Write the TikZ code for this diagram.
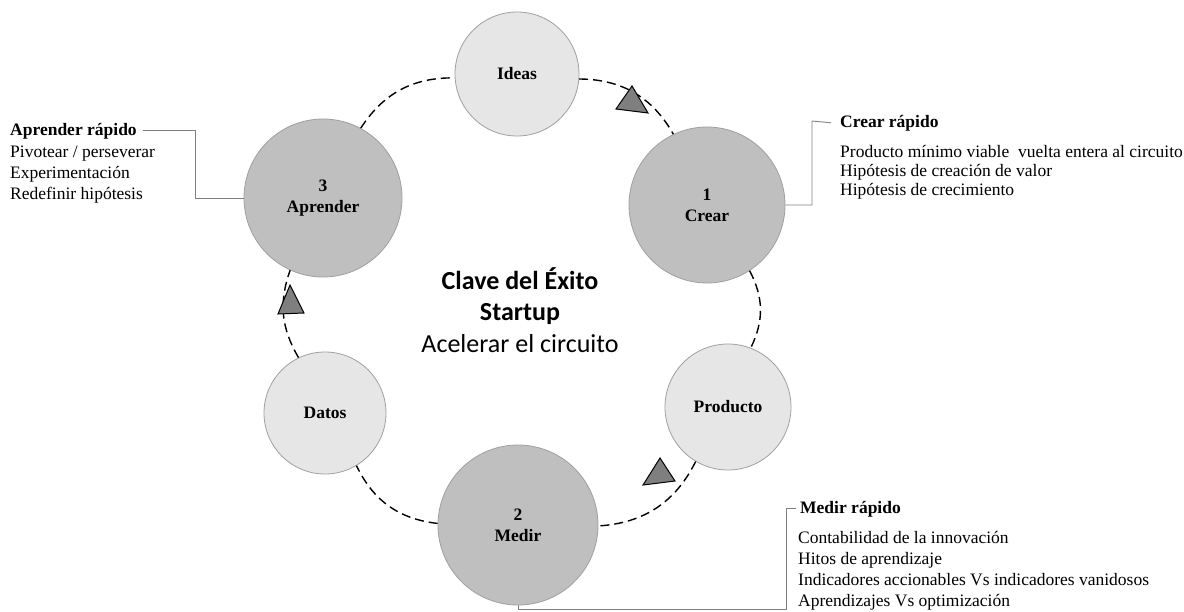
\documentclass[tikz,border=0pt]{standalone}
\usepackage{fontspec}
\setmainfont{Liberation Serif}
\newfontfamily\calibri{Carlito}
\definecolor{darkfill}{HTML}{BFBFBF}
\definecolor{lightfill}{HTML}{E6E6E6}
\definecolor{circedge}{HTML}{A0A0A0}
\definecolor{trifill}{HTML}{7F7F7F}
\definecolor{connc}{HTML}{808080}
\begin{document}
\begin{tikzpicture}[x=1pt,y=-1pt,
  darkc/.style={circle,draw=circedge,fill=darkfill,line width=0.8pt,minimum size=#1,inner sep=0pt,align=center,font=\fontsize{17.5}{21}\selectfont\bfseries},
  lightc/.style={circle,draw=circedge,fill=lightfill,line width=0.8pt,minimum size=#1,inner sep=0pt,align=center,font=\fontsize{17.5}{21}\selectfont\bfseries},
  cyc/.style={line width=1.4pt,dash pattern=on 9pt off 5pt},
  conn/.style={draw=connc,line width=0.9pt},
  txt/.style={anchor=base west,inner sep=0pt,font=\fontsize{17.5}{21}\selectfont},
  hd/.style={anchor=base west,inner sep=0pt,font=\fontsize{17.5}{21}\selectfont\bfseries},
  ctr/.style={anchor=base,inner sep=0pt,font=\calibri\fontsize{26}{31}\selectfont},
  tri/.style={fill=trifill,draw=black,line width=1pt,line join=miter}
]
\useasboundingbox (0,0) rectangle (1184,611);
\fill[white] (0,0) rectangle (1184,611);

% circles
\node[lightc=124pt] (ideas) at (517,74) {Ideas};
\node[darkc=156pt] (crear) at (707,205) {1\\Crear};
\node[lightc=126pt] (producto) at (728,407) {Producto};
\node[darkc=160pt] (medir) at (518,525) {2\\Medir};
\node[lightc=122pt] (datos) at (325,413) {Datos};
\node[darkc=158pt] (aprender) at (323,198) {3\\Aprender};

% cycle connectors
\draw[cyc] (ideas) to[bend left=30] (crear);
\draw[cyc] (crear) to[bend left=27] (producto);
\draw[cyc] (producto) to[bend left=30] (medir);
\draw[cyc] (medir) to[bend left=29] (datos);
\draw[cyc] (datos) to[bend left=25] (aprender);
\draw[cyc] (aprender) to[bend left=29] (ideas);

% triangles
\filldraw[tri] (632,86) -- (616,109) -- (648,113) -- cycle;
\filldraw[tri] (290,285) -- (278,314) -- (304,313) -- cycle;
\filldraw[tri] (660,458) -- (643,485) -- (675,481) -- cycle;

% center text
\node[ctr,font=\calibri\fontsize{26}{31}\selectfont\bfseries] (t1) at (520,289) {Clave del Éxito};
\node[ctr,font=\calibri\fontsize{26}{31}\selectfont\bfseries] (t2) at (520,320) {Startup};
\node[ctr] (t3) at (520,352) {Acelerar el circuito};

% left block
\node[hd] (aprh) at (10,135) {Aprender rápido};
\node[txt] (apr1) at (10,157) {Pivotear / perseverar};
\node[txt] (apr2) at (10,178) {Experimentación};
\node[txt] (apr3) at (10,199) {Redefinir hipótesis};
\coordinate (k1) at (195,198);
\draw[conn] ([xshift=6pt]aprh.east) -| (k1) -- (aprender.west);

% right block
\node[hd] (crh) at (840,127) {Crear rápido};
\node[txt] (cr1) at (840,157) {Producto mínimo viable\ \ vuelta entera al circuito};
\node[txt] (cr2) at (840,176) {Hipótesis de creación de valor};
\node[txt] (cr3) at (840,195) {Hipótesis de crecimiento};
\coordinate (k2) at (812,121);
\draw[conn] (crear.east) -| (k2) -- ([xshift=-9pt]crh.west);

% bottom block
\node[hd] (mdh) at (800,513) {Medir rápido};
\node[txt] (md1) at (798,543) {Contabilidad de la innovación};
\node[txt] (md2) at (798,564) {Hitos de aprendizaje};
\node[txt] (md3) at (798,585) {Indicadores accionables Vs indicadores vanidosos};
\node[txt] (md4) at (798,606) {Aprendizajes Vs optimización};
\coordinate (k3) at (786,609);
\draw[conn] (medir.south) |- (k3) |- ([xshift=-4pt]mdh.west);
\end{tikzpicture}
\end{document}
